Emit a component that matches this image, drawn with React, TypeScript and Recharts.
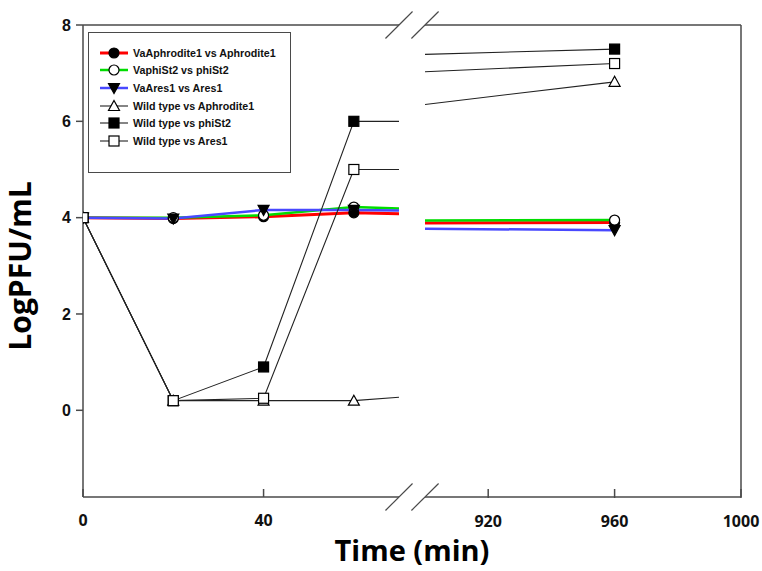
import React from "react";
import { LineChart, Line, XAxis, YAxis, ReferenceLine } from "recharts";

// times (min) on both sides of the axis break
const earlyTimes = [0, 20, 40, 60, 70];
const lateTimes = [900, 960];
// 70 and 900 are where the lines run into the break, no marker there
const breakEdges = [70, 900];

// LogPFU/mL
const vaAphroditeEarly = [4, 3.98, 4.02, 4.1, 4.08];
const vaAphroditeLate = [3.89, 3.9];
const vaPhiSt2Early = [4, 4.0, 4.05, 4.22, 4.19];
const vaPhiSt2Late = [3.94, 3.95];
const vaAresEarly = [4, 3.98, 4.16, 4.16, 4.15];
const vaAresLate = [3.77, 3.74];
const wtAphroditeEarly = [4, 0.2, 0.2, 0.2, 0.27];
const wtAphroditeLate = [6.35, 6.82];
const wtPhiSt2Early = [4, 0.2, 0.9, 6, 6];
const wtPhiSt2Late = [7.39, 7.5];
const wtAresEarly = [4, 0.2, 0.25, 5, 5];
const wtAresLate = [7.03, 7.2];

const earlyTicks = [0, 40];
const lateTicks = [920, 960, 1000];
const yTicks = [0, 2, 4, 6, 8];
const yDomain = [-1.8, 8];

type Shape = "circle" | "square" | "triDown" | "triUp";

const series = [
  { name: "VaAphrodite1 vs Aphrodite1", early: vaAphroditeEarly, late: vaAphroditeLate, color: "#ff0000", width: 3, shape: "circle" as Shape, filled: true },
  { name: "VaphiSt2 vs phiSt2", early: vaPhiSt2Early, late: vaPhiSt2Late, color: "#00dd00", width: 2.5, shape: "circle" as Shape, filled: false },
  { name: "VaAres1 vs Ares1", early: vaAresEarly, late: vaAresLate, color: "#4848ff", width: 2.5, shape: "triDown" as Shape, filled: true },
  { name: "Wild type vs Aphrodite1", early: wtAphroditeEarly, late: wtAphroditeLate, color: "#222", width: 1.1, shape: "triUp" as Shape, filled: false },
  { name: "Wild type vs phiSt2", early: wtPhiSt2Early, late: wtPhiSt2Late, color: "#222", width: 1.1, shape: "square" as Shape, filled: true },
  { name: "Wild type vs Ares1", early: wtAresEarly, late: wtAresLate, color: "#222", width: 1.1, shape: "square" as Shape, filled: false },
];

const earlyData = earlyTimes.map((t, i) => {
  const row: Record<string, number> = { t };
  series.forEach((s, k) => (row["s" + k] = s.early[i]));
  return row;
});
const lateData = lateTimes.map((t, i) => {
  const row: Record<string, number> = { t };
  series.forEach((s, k) => (row["s" + k] = s.late[i]));
  return row;
});

const frame = "#4a4a4a";

const Marker = ({ cx, cy, shape, filled }: { cx: number; cy: number; shape: Shape; filled: boolean }) => {
  const fill = filled ? "#000" : "#fff";
  const st = { fill, stroke: "#000", strokeWidth: 1.2 };
  if (shape === "circle") return <circle cx={cx} cy={cy} r={5} {...st} />;
  if (shape === "square") return <rect x={cx - 5} y={cy - 5} width={10} height={10} {...st} />;
  if (shape === "triDown")
    return <polygon points={`${cx - 5.5},${cy - 4.5} ${cx + 5.5},${cy - 4.5} ${cx},${cy + 5.5}`} {...st} />;
  return <polygon points={`${cx},${cy - 5.5} ${cx + 5.5},${cy + 4.5} ${cx - 5.5},${cy + 4.5}`} {...st} />;
};

const makeDot = (shape: Shape, filled: boolean) => (props: any) => {
  const { cx, cy, payload, index } = props;
  if (breakEdges.includes(payload.t) || cx == null) return <g key={"d" + index} />;
  return (
    <g key={"d" + index}>
      <Marker cx={cx} cy={cy} shape={shape} filled={filled} />
    </g>
  );
};

const LegendBox = () => (
  <div
    style={{
      position: "absolute",
      left: 88,
      top: 32,
      width: 201,
      height: 128,
      border: `1.5px solid ${frame}`,
      paddingTop: 11,
      boxSizing: "content-box",
      fontFamily: "'Liberation Sans', Arial, sans-serif",
      fontWeight: "bold",
      fontSize: 10.7,
      color: "#111",
    }}
  >
    {series.map((s) => (
      <div key={s.name} style={{ display: "flex", alignItems: "center", height: 17.6 }}>
        <svg width={44} height={14} style={{ flexShrink: 0 }}>
          <line x1={11} x2={39} y1={7} y2={7} stroke={s.color} strokeWidth={s.width} />
          <Marker cx={25} cy={7} shape={s.shape} filled={s.filled} />
        </svg>
        <span>{s.name}</span>
      </div>
    ))}
  </div>
);

const xTick = { fill: "#111", fontSize: 16, fontWeight: "bold", fontFamily: "'Open Sans', sans-serif" };

export default function App() {
  return (
    <div style={{ position: "absolute", left: 0, top: 0, width: 762, height: 571, background: "#fff" }}>
      <LineChart width={762} height={571} margin={{ top: 25, right: 21, bottom: 72, left: 0 }}>
        <XAxis
          xAxisId="early"
          type="number"
          dataKey="t"
          domain={[0, 70]}
          ticks={earlyTicks}
          padding={{ left: 0, right: 342 }}
          height={1}
          axisLine={false}
          tickSize={-8}
          tickMargin={26}
          tickLine={{ stroke: frame, strokeWidth: 1.5 }}
          tick={xTick}
          allowDataOverflow
        />
        <XAxis
          xAxisId="late"
          type="number"
          dataKey="t"
          domain={[900, 1000]}
          ticks={lateTicks}
          padding={{ left: 342, right: 0 }}
          height={1}
          axisLine={false}
          tickSize={-9}
          tickMargin={27}
          tickLine={{ stroke: frame, strokeWidth: 1.5 }}
          tick={xTick}
          allowDataOverflow
          label={({ viewBox }: any) => (
            <text
              x={viewBox.x + viewBox.width / 2}
              y={561}
              textAnchor="middle"
              fontSize={29}
              fontWeight="bold"
              fontFamily="'Open Sans', sans-serif"
              fill="#000"
            >
              Time (min)
            </text>
          )}
        />
        <YAxis
          type="number"
          domain={yDomain}
          ticks={yTicks}
          width={83}
          tickSize={7}
          tickMargin={5}
          axisLine={{ stroke: frame, strokeWidth: 1.5 }}
          tickLine={{ stroke: frame, strokeWidth: 1.5 }}
          tick={{ fill: "#111", fontSize: 16, fontWeight: "bold", fontFamily: "'Liberation Sans', Arial, sans-serif" }}
          allowDataOverflow
          label={({ viewBox }: any) => (
            <text
              x={31}
              y={viewBox.y + viewBox.height / 2 + 5}
              transform={`rotate(-90, 31, ${viewBox.y + viewBox.height / 2 + 5})`}
              textAnchor="middle"
              fontSize={30}
              fontWeight="bold"
              fontFamily="'Open Sans', sans-serif"
              fill="#000"
            >
              LogPFU/mL
            </text>
          )}
        />

        {/* frame pieces on each side of the break */}
        <ReferenceLine xAxisId="early" segment={[{ x: 0, y: 8 }, { x: 70, y: 8 }]} stroke={frame} strokeWidth={1.5} ifOverflow="visible" />
        <ReferenceLine xAxisId="early" segment={[{ x: 0, y: -1.8 }, { x: 70, y: -1.8 }]} stroke={frame} strokeWidth={1.5} ifOverflow="visible" />
        <ReferenceLine xAxisId="late" segment={[{ x: 900, y: 8 }, { x: 1000, y: 8 }]} stroke={frame} strokeWidth={1.5} ifOverflow="visible" />
        <ReferenceLine xAxisId="late" segment={[{ x: 900, y: -1.8 }, { x: 1000, y: -1.8 }]} stroke={frame} strokeWidth={1.5} ifOverflow="visible" />
        <ReferenceLine xAxisId="late" segment={[{ x: 1000, y: -1.8 }, { x: 1000, y: 8 }]} stroke={frame} strokeWidth={1.5} ifOverflow="visible" />
        {/* break slashes */}
        <ReferenceLine xAxisId="early" segment={[{ x: 67, y: 7.72 }, { x: 73, y: 8.28 }]} stroke={frame} strokeWidth={1.2} ifOverflow="visible" />
        <ReferenceLine xAxisId="early" segment={[{ x: 67, y: -2.08 }, { x: 73, y: -1.52 }]} stroke={frame} strokeWidth={1.2} ifOverflow="visible" />
        <ReferenceLine xAxisId="late" segment={[{ x: 895.7, y: 7.72 }, { x: 904.3, y: 8.28 }]} stroke={frame} strokeWidth={1.2} ifOverflow="visible" />
        <ReferenceLine xAxisId="late" segment={[{ x: 895.7, y: -2.08 }, { x: 904.3, y: -1.52 }]} stroke={frame} strokeWidth={1.2} ifOverflow="visible" />

        {series.map((s, k) => (
          <Line
            key={"e" + k}
            xAxisId="early"
            data={earlyData}
            dataKey={"s" + k}
            type="linear"
            stroke={s.color}
            strokeWidth={s.width}
            dot={makeDot(s.shape, s.filled)}
            activeDot={false}
            isAnimationActive={false}
          />
        ))}
        {series.map((s, k) => (
          <Line
            key={"l" + k}
            xAxisId="late"
            data={lateData}
            dataKey={"s" + k}
            type="linear"
            stroke={s.color}
            strokeWidth={s.width}
            dot={makeDot(s.shape, s.filled)}
            activeDot={false}
            isAnimationActive={false}
          />
        ))}
      </LineChart>
      <LegendBox />
    </div>
  );
}
